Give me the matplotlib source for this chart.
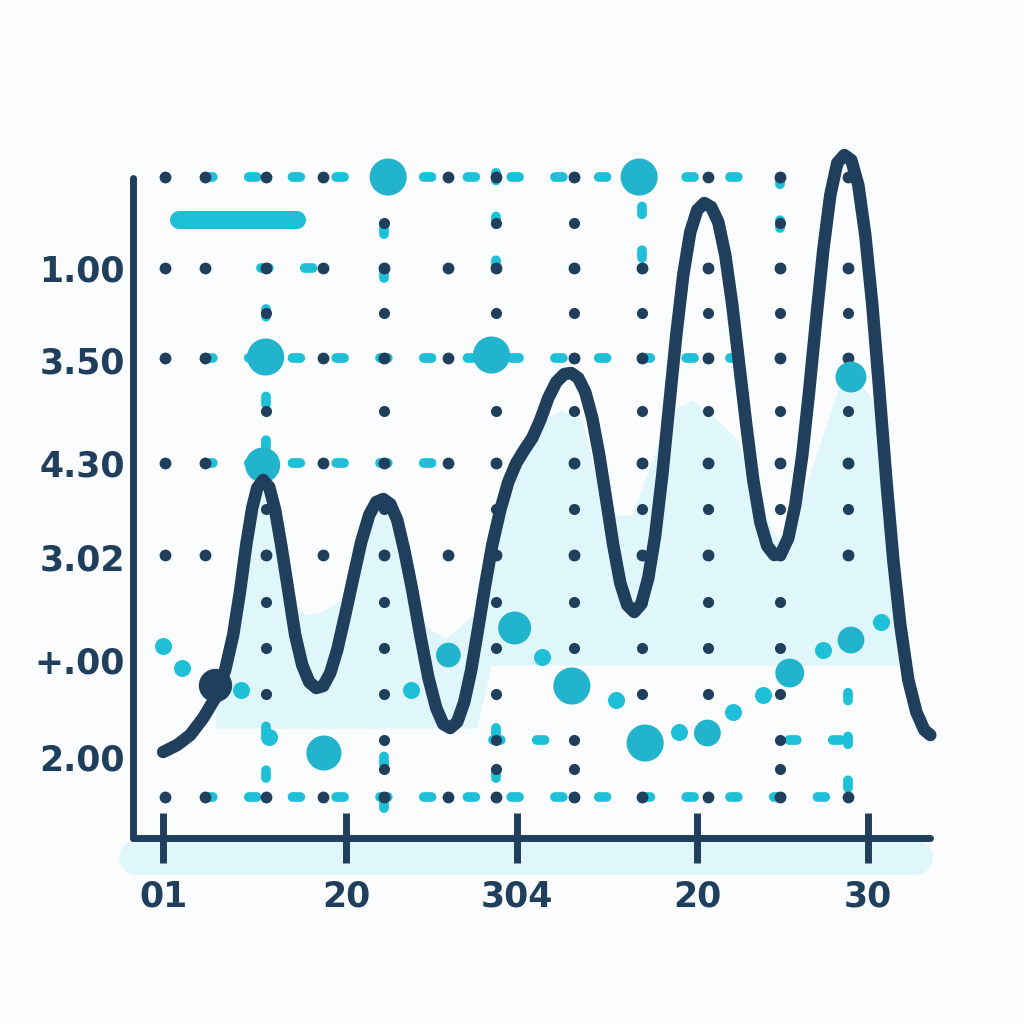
import matplotlib.pyplot as plt
import numpy as np

navy = '#1f3f5c'
cyan = '#1ec0d8'
cyan_big = '#22b4cc'
fill_c = '#dff6fb'

# main curve
curve_x = [3.75, 5.5, 7.13, 8.75, 10.25, 11.5, 12.5, 13.38, 14.13, 14.88, 15.5, 16.25, 17.0,
           17.75, 18.5, 19.38, 20.25, 21.13, 22.0, 22.88, 23.75, 24.63, 25.5, 26.5, 27.5, 28.5,
           29.5, 30.38, 31.25, 32.13, 33.0, 33.88, 34.88, 35.88, 36.88, 37.88, 38.75, 39.63,
           40.5, 41.38, 42.25, 43.13, 44.0, 44.88, 45.88, 46.88, 47.88, 48.88, 49.88, 50.88,
           51.88, 52.88, 53.88, 54.75, 55.63, 56.5, 57.38, 58.25, 59.13, 60.0, 60.88, 61.75,
           62.63, 63.5, 64.38, 65.25, 66.13, 67.0, 67.88, 68.75, 69.63, 70.5, 71.38, 72.25,
           73.13, 74.0, 74.88, 75.75, 76.63, 77.5, 78.38, 79.25, 80.13, 81.0, 81.88, 82.75,
           83.63, 84.5, 85.38, 86.25, 87.13, 88.0, 88.88, 89.75, 90.63, 91.5, 92.38, 93.25,
           94.13, 95.0, 95.88, 96.88, 97.88, 98.88, 99.63]
curve_y = [0.86, 0.93, 1.03, 1.20, 1.40, 1.68, 2.03, 2.48, 2.93, 3.30, 3.50, 3.58, 3.51,
           3.28, 2.93, 2.48, 2.03, 1.73, 1.56, 1.50, 1.52, 1.65, 1.88, 2.23, 2.60, 2.96,
           3.23, 3.36, 3.39, 3.34, 3.18, 2.88, 2.48, 2.03, 1.61, 1.30, 1.14, 1.10,
           1.16, 1.36, 1.68, 2.10, 2.53, 2.93, 3.28, 3.56, 3.75, 3.88, 4.00, 4.18,
           4.40, 4.56, 4.64, 4.65, 4.60, 4.46, 4.20, 3.83, 3.38, 2.93, 2.55, 2.33,
           2.26, 2.34, 2.60, 3.03, 3.63, 4.33, 5.03, 5.63, 6.06, 6.28, 6.35, 6.31,
           6.16, 5.83, 5.33, 4.73, 4.13, 3.58, 3.16, 2.92, 2.83, 2.85, 3.00, 3.33,
           3.83, 4.48, 5.20, 5.88, 6.43, 6.75, 6.83, 6.78, 6.53, 6.03, 5.33, 4.48,
           3.58, 2.78, 2.13, 1.58, 1.26, 1.08, 1.03]

# shaded area
area_x = [10.29, 12.80, 14.68, 16.19, 17.82, 19.70, 21.58, 23.46, 25.97, 28.48, 31.37, 33.50,
          35.38, 37.26, 39.15, 41.03, 42.91, 44.79, 46.68, 48.56, 51.07, 53.58, 56.09, 58.59,
          60.48, 62.36, 64.87, 67.38, 69.89, 73.02, 75.53, 78.04, 80.55, 83.06, 85.57, 88.08,
          89.96, 92.47, 94.35, 96.86]
area_top = [1.38, 1.98, 2.98, 3.48, 2.98, 2.38, 2.23, 2.26, 2.38, 2.98, 3.33, 2.78,
            2.23, 2.08, 2.00, 2.13, 2.26, 2.68, 3.38, 3.88, 4.18, 4.28, 4.18, 3.38,
            3.23, 3.23, 3.78, 4.28, 4.38, 4.18, 3.98, 3.38, 2.98, 3.28, 3.88, 4.48,
            4.63, 4.38, 4.08, 1.78]
area_base_left = 1.10
area_base_right = 1.73
area_split = 44.0

# cyan bubbles
big_x = [31.87, 63.24, 16.56, 44.79, 16.19, 89.71, 47.68, 54.83, 63.99, 23.84, 82.06, 89.71, 71.77, 39.40]
big_y = [6.61, 6.61, 4.81, 4.83, 3.73, 4.61, 2.10, 1.52, 0.95, 0.85, 1.65, 1.98, 1.05, 1.83]
big_s = [36, 36, 36, 36, 34, 30, 32, 36, 36, 34, 28, 26, 26, 24]
small_x = [6.15, 3.76, 34.76, 51.07, 60.35, 68.26, 74.91, 78.67, 86.20, 93.48, 13.43, 16.94]
small_y = [1.70, 1.92, 1.48, 1.81, 1.38, 1.06, 1.26, 1.43, 1.88, 2.16, 1.48, 1.01]

# dark point on the curve
pt_x, pt_y = 10.29, 1.53

# dot grid
grid_x = [4.0, 9.0, 16.6, 23.7, 31.4, 39.4, 45.4, 55.1, 63.6, 71.8, 80.9, 89.3]
grid_y = [6.61, 5.70, 4.80, 3.75, 2.83, 0.41]
col_levels = [6.61, 5.70, 4.80, 3.75, 2.83, 1.90, 0.98, 0.41]
dot_cols = [(16.6, 1.4, 5.7), (31.4, 0.4, 6.6), (45.4, 0.4, 6.6), (55.1, 0.4, 6.6),
            (63.6, 1.3, 5.7), (71.8, 1.3, 5.7), (80.9, 0.4, 6.6), (89.3, 2.8, 5.7)]
dash_rows = [(6.61, 9, 80), (5.70, 16, 25), (4.80, 9, 80), (3.75, 9, 40),
             (0.98, 45, 53), (0.98, 82, 90), (0.41, 9, 90)]
dash_cols = [(31.4, 5.6, 6.4), (31.4, 0.3, 0.9), (45.4, 5.7, 6.7), (45.4, 0.6, 1.1),
             (63.6, 5.8, 6.4), (80.9, 6.1, 6.6), (89.3, 0.5, 1.5), (16.6, 3.9, 5.4), (16.6, 0.6, 1.2)]

xtick_pos = [3.76, 26.60, 47.93, 70.51, 91.84]
xtick_lab = ['01', '20', '304', '20', '30']
ytick_pos = [5.70, 4.78, 3.75, 2.81, 1.78, 0.81]
ytick_lab = ['1.00', '3.50', '4.30', '3.02', '+.00', '2.00']

fig = plt.figure(figsize=(10.24, 10.24), dpi=100, facecolor='#fbfcfd')
ax = fig.add_axes([0.1105, 0.1328, 0.8056, 0.7324])
ax.set_facecolor('none')
ax.set_xlim(-2.5, 100.6)
ax.set_ylim(-0.5, 7.0)

ax.plot([0.31, 97.7], [-0.19, -0.19], lw=25, color=fill_c, solid_capstyle='round', zorder=0)

area_x = np.array(area_x)
base = np.where(area_x <= area_split, area_base_left, area_base_right)
ax.fill_between(area_x, base, area_top, color=fill_c, lw=0, zorder=1)

for y, x0, x1 in dash_rows:
    ax.plot([x0, x1], [y, y], color=cyan, lw=7, linestyle=(0, (0.8, 3.7)),
            dash_capstyle='round', zorder=2)
for x, y0, y1 in dash_cols:
    ax.plot([x, x], [y0, y1], color=cyan, lw=7, linestyle=(0, (0.8, 3.7)),
            dash_capstyle='round', zorder=2)

# row dots
gx, gy = np.meshgrid(grid_x, grid_y)
ax.plot(gx.ravel(), gy.ravel(), 'o', color=navy, ms=8.5, mew=0, zorder=2)
# column dots: on the levels and halfway between them
lv = np.array(col_levels)
col_y = np.sort(np.concatenate([lv, (lv[:-1] + lv[1:]) / 2]))
for x, y0, y1 in dot_cols:
    yy = col_y[(col_y >= y0 - 0.05) & (col_y <= y1 + 0.05)]
    ax.plot(np.full(len(yy), x), yy, 'o', color=navy, ms=8, mew=0, zorder=2)

ax.scatter(small_x, small_y, s=150, color=cyan, lw=0, zorder=3)
ax.scatter(big_x, big_y, s=np.array(big_s) ** 2 * 0.55, color=cyan_big, lw=0, zorder=3)

ax.plot(curve_x, curve_y, color=navy, lw=9, solid_capstyle='round',
        solid_joinstyle='round', zorder=4)
ax.plot(pt_x, pt_y, 'o', color=navy, ms=24, mew=0, zorder=5)

# legend swatch
ax.plot([5.77, 20.45], [6.18, 6.18], color=cyan, lw=13, solid_capstyle='round', zorder=3)

for s in ['top', 'right']:
    ax.spines[s].set_visible(False)
ax.spines['left'].set_position(('data', 0))
ax.spines['bottom'].set_position(('data', 0))
ax.spines['left'].set_bounds(0, 6.6)
ax.spines['bottom'].set_bounds(0, 99.6)
for s in ['left', 'bottom']:
    ax.spines[s].set_linewidth(5)
    ax.spines[s].set_color(navy)
    ax.spines[s].set_capstyle('round')

ax.set_xticks(xtick_pos, xtick_lab)
ax.set_yticks(ytick_pos, ytick_lab)
ax.tick_params(axis='x', direction='inout', length=36, width=5, color=navy, pad=12,
               labelsize=25, labelcolor=navy)
ax.tick_params(axis='y', length=0, pad=6, labelsize=25, labelcolor=navy)
for lab in ax.get_xticklabels() + ax.get_yticklabels():
    lab.set_fontweight('bold')

fig.savefig('out.png', dpi=100, facecolor=fig.get_facecolor())
